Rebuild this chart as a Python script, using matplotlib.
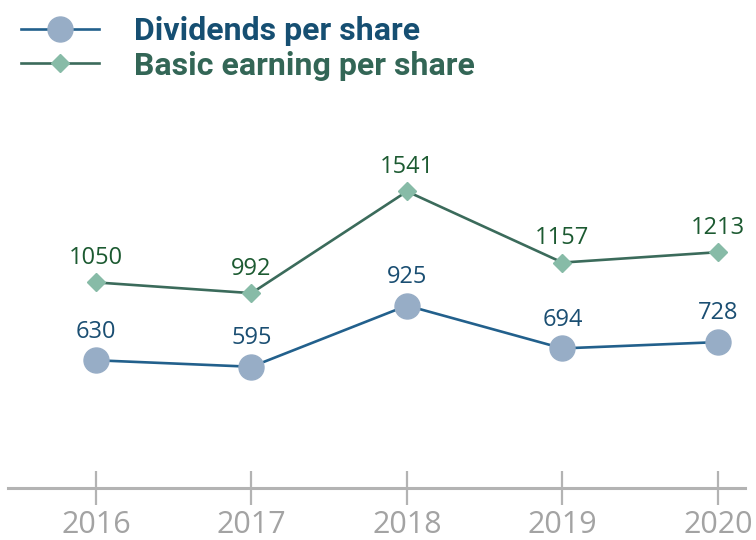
import numpy as np
import matplotlib.pyplot as plt
from matplotlib.lines import Line2D

years = ["2016", "2017", "2018", "2019", "2020"]
dividends = [630, 595, 925, 694, 728]
eps = [1050, 992, 1541, 1157, 1213]

fig = plt.figure(figsize=(7.56, 5.4), dpi=100)
ax = fig.add_axes([8/756, 52/540, 737/756, 368/540])

x = np.arange(len(years))

# dividends
ax.plot(x, dividends, color="#22608c", lw=1.9, marker="o", ms=18,
        mfc="#97adc6", mec="#97adc6", zorder=3)
for xi, v in zip(x, dividends):
    ax.annotate(str(v), (xi, v), xytext=(0, 12), textcoords="offset points",
                ha="center", va="bottom", fontsize=17, color="#1a4e72",
                family="Open Sans")

# earnings
ax.plot(x, eps, color="#3b6b5b", lw=1.9, marker="D", ms=9.5,
        mfc="#87bba7", mec="#87bba7", zorder=3)
for xi, v in zip(x, eps):
    ax.annotate(str(v), (xi, v), xytext=(0, 9), textcoords="offset points",
                ha="center", va="bottom", fontsize=17, color="#1c5a31",
                family="Open Sans")

ax.set_xlim(-0.566, 4.174)
ax.set_ylim(-59, 1926)
ax.set_xticks(x)
ax.set_xticklabels(years, fontsize=22, color="#a3a3a3", family="Open Sans")
ax.set_yticks([])
for s in ["top", "left", "right"]:
    ax.spines[s].set_visible(False)
ax.spines["bottom"].set_color("#b3b3b3")
ax.spines["bottom"].set_linewidth(2.2)
ax.tick_params(axis="x", direction="inout", length=25, width=1.6,
               color="#b3b3b3", pad=3)
ax.patch.set_alpha(0)

handles = [
    Line2D([], [], color="#22608c", lw=1.9, marker="o", ms=18,
           mfc="#97adc6", mec="#97adc6"),
    Line2D([], [], color="#3b6b5b", lw=1.9, marker="D", ms=9.5,
           mfc="#87bba7", mec="#87bba7"),
]
leg = fig.legend(handles, ["Dividends per share", "Basic earning per share"],
                 loc="upper left", bbox_to_anchor=(8/756, 1 - 3/540),
                 frameon=False,
                 prop={"family": "Roboto", "weight": "bold", "size": 23},
                 handlelength=2.45, handletextpad=1.1, labelspacing=0.15,
                 borderaxespad=0.0)
leg.get_texts()[0].set_color("#164f72")
leg.get_texts()[1].set_color("#336656")

fig.savefig("out.png", dpi=100)
